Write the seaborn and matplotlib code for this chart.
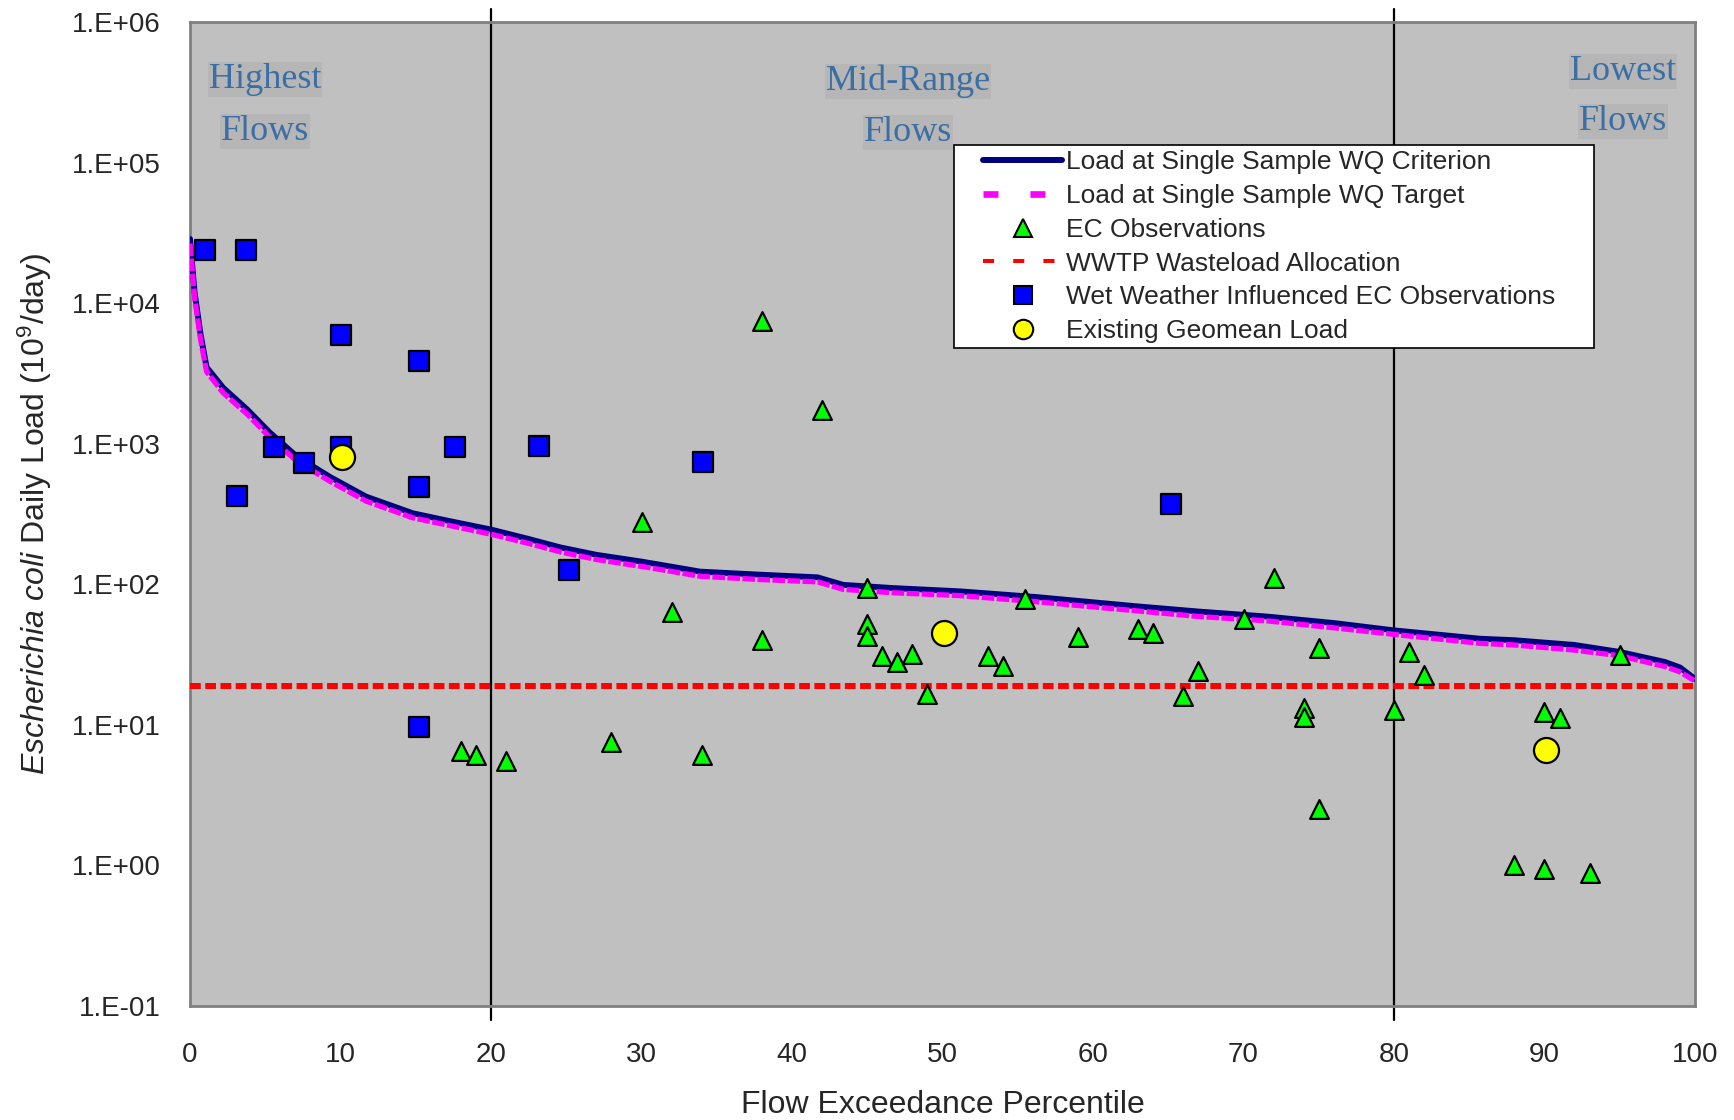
import numpy as np
import matplotlib
matplotlib.use('Agg')
import matplotlib.pyplot as plt
import seaborn as sns
from matplotlib.lines import Line2D
from matplotlib.legend_handler import HandlerLine2D
from matplotlib.ticker import FixedLocator, FuncFormatter, NullLocator

# load duration curves
curve_pct = [0, 0.3, 0.7, 1.1, 2.2, 3.8, 5.3, 7.1, 9.3, 11.7, 14.8, 17, 20, 22.5, 24.6,
             27, 30, 33.9, 37.9, 41.7, 43.4, 46.7, 51.2, 56.3, 62.7, 67, 71.5, 76, 80,
             85.7, 88, 92, 95, 98, 99, 100]
criterion_load = [28600, 12000, 6000, 3500, 2500, 1750, 1200, 810, 580, 420, 320, 285, 245,
                  210, 183, 162, 145, 123, 117, 112, 99, 94, 89, 81, 70, 64, 59, 53, 47,
                  41, 40, 37, 33, 28, 25.6, 21.2]
target_load = [26500, 11000, 5500, 3250, 2300, 1620, 1110, 750, 540, 390, 297, 265, 227,
               195, 170, 150, 134, 114, 108, 104, 92, 87, 83, 75, 65, 59, 55, 49, 44,
               38, 37, 34, 31, 26, 23.8, 20.5]

# WWTP wasteload allocation
wwtp_pct = [0, 100]
wwtp_load = [19, 19]

# E. coli observations
ec_pct = [38, 42, 30, 32, 38, 45, 45, 45, 46, 47, 48, 49, 53, 54, 55.5, 28, 34, 18, 19, 21,
          59, 63, 64, 67, 66, 70, 72, 75, 74, 74, 75, 80, 81, 82, 95, 90, 91, 88, 90, 93]
ec_load = [7400, 1740, 275, 64, 40, 94, 52, 43, 31, 28, 32, 16.6, 31, 26, 79, 7.5, 6.1, 6.5,
           6.1, 5.5, 42, 48, 45, 24, 16, 57, 110, 35, 13.2, 11.4, 2.5, 12.8, 33, 22.6, 31.5,
           12.4, 11.2, 1.0, 0.95, 0.88]

# wet weather influenced observations
wet_pct = [1, 3.7, 10, 15.2, 5.6, 7.6, 10, 17.6, 23.2, 3.1, 15.2, 25.2, 34.1, 65.2, 15.2]
wet_load = [24000, 24000, 5900, 3900, 940, 727, 940, 940, 965, 425, 495, 127, 746, 372, 9.7]

# existing geomean loads
geo_pct = [10.1, 50.1, 90.1]
geo_load = [800, 45, 6.6]

# flow zone annotations: two lines each, baseline heights as axes fraction
zone_lines = [('Highest', 'Flows'), ('Mid-Range', 'Flows'), ('Lowest', 'Flows')]
zone_x = [5.0, 47.7, 95.2]
zone_y = [(0.933, 0.880), (0.931, 0.879), (0.941, 0.890)]
zone_bounds = [20, 80]

sns.set_style('white')
plt.rcParams['font.family'] = ['Liberation Sans', 'DejaVu Sans']
plt.rcParams['mathtext.fontset'] = 'custom'
plt.rcParams['mathtext.rm'] = 'Liberation Sans'
plt.rcParams['mathtext.it'] = 'Liberation Sans:italic'

fig, ax = plt.subplots(figsize=(17.34, 11.2), dpi=100)
fig.subplots_adjust(left=0.1096, right=0.9775, top=0.9804, bottom=0.1018)
ax.set_facecolor('#C0C0C0')
ax.set_yscale('log')

# curves
sns.lineplot(x=curve_pct, y=criterion_load, color='#000080', linewidth=4.2,
             solid_capstyle='round', ax=ax, zorder=3)
sns.lineplot(x=curve_pct, y=target_load, color='#FF00FF', linewidth=3.8,
             ax=ax, zorder=4).lines[-1].set_dashes((2.4, 0.45))
sns.lineplot(x=wwtp_pct, y=wwtp_load, color='#FF0000', linewidth=4.3, ax=ax,
             zorder=4).lines[-1].set_dashes((1.8, 0.75))

# observations
sns.scatterplot(x=ec_pct, y=ec_load, marker='^', s=13.5 ** 2, color='#00FF00',
                edgecolor='black', linewidth=1.6, ax=ax, zorder=6)
sns.scatterplot(x=wet_pct, y=wet_load, marker='s', s=15 ** 2, color='#0000FF',
                edgecolor='black', linewidth=1.6, ax=ax, zorder=7)
sns.scatterplot(x=geo_pct, y=geo_load, marker='o', s=18 ** 2, color='#FFFF00',
                edgecolor='black', linewidth=1.6, ax=ax, zorder=8)

# flow zone separators
for xb in zone_bounds:
    ax.axvline(xb, ymin=-0.014, ymax=1.013, color='black', linewidth=1.6,
               clip_on=False, zorder=2)

for lines, zx, zys in zip(zone_lines, zone_x, zone_y):
    for txt, zy in zip(lines, zys):
        ax.text(zx, zy, txt, transform=ax.get_xaxis_transform(), ha='center',
                va='baseline', fontsize=26, family='Liberation Serif', color='#3A6EA5',
                bbox=dict(facecolor='#B6B6B6', edgecolor='none', pad=0.5), zorder=2)

ax.set_xlim(0, 100)
ax.set_ylim(0.1, 1e6)
ax.xaxis.set_major_locator(FixedLocator(range(0, 101, 10)))
ax.yaxis.set_major_locator(FixedLocator([10.0 ** k for k in range(-1, 7)]))
ax.yaxis.set_minor_locator(NullLocator())
ax.yaxis.set_major_formatter(FuncFormatter(lambda v, p: f"1.E{int(round(np.log10(v))):+03d}"))
ax.tick_params(axis='x', length=7, width=1.2, pad=19, labelsize=20, color='#404040')
ax.tick_params(axis='y', length=7, width=1.2, pad=14, labelsize=20, color='#404040')
for sp in ax.spines.values():
    sp.set_color('#808080')
    sp.set_linewidth(2)
    sp.set_visible(True)

ax.set_xlabel('Flow Exceedance Percentile', fontsize=23, labelpad=16)
ax.set_ylabel(r'$\it{Escherichia\ coli}$ Daily Load (10$^9$/day)', fontsize=23, labelpad=13)

handles = [
    Line2D([], [], color='#000080', linewidth=4.3, solid_capstyle='round'),
    Line2D([], [], color='#FF00FF', linewidth=4.8, dashes=(2.24, 4.8)),
    Line2D([], [], linestyle='none', marker='^', markersize=12.5, markerfacecolor='#00FF00',
           markeredgecolor='black', markeredgewidth=1.5),
    Line2D([], [], color='#FF0000', linewidth=2.9, dashes=(2.75, 4.75)),
    Line2D([], [], linestyle='none', marker='s', markersize=13.5, markerfacecolor='#0000FF',
           markeredgecolor='black', markeredgewidth=1.5),
    Line2D([], [], linestyle='none', marker='o', markersize=14, markerfacecolor='#FFFF00',
           markeredgecolor='black', markeredgewidth=1.5),
]
labels = ['Load at Single Sample WQ Criterion', 'Load at Single Sample WQ Target',
          'EC Observations', 'WWTP Wasteload Allocation',
          'Wet Weather Influenced EC Observations', 'Existing Geomean Load']
leg = ax.legend(handles, labels, loc='upper left',
                bbox_to_anchor=(0.5076, 0.668, 0.4253, 0.207), mode='expand',
                borderaxespad=0, fontsize=19, frameon=True, fancybox=False,
                edgecolor='black', framealpha=1, handlelength=3.9, handletextpad=0.15,
                labelspacing=0.37, borderpad=0.2,
                handler_map={Line2D: HandlerLine2D(xpad=0.9)})
leg.get_frame().set_linewidth(1.2)
leg.set_zorder(10)

plt.savefig('out.png', dpi=100)
